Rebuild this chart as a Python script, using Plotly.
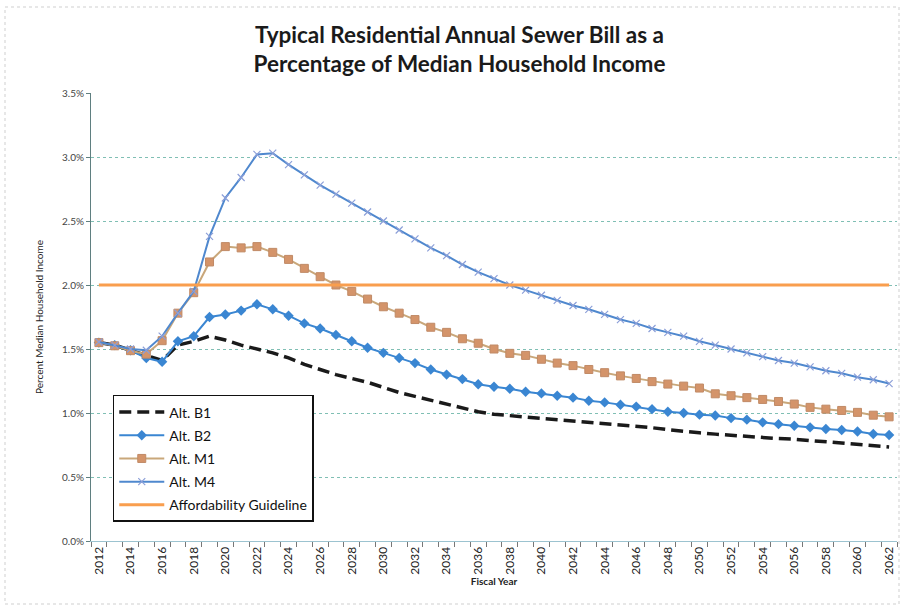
import plotly.graph_objects as go

years = list(range(2012, 2063))

alt_b1 = [1.55, 1.53, 1.49, 1.45, 1.41, 1.53, 1.56, 1.60, 1.57, 1.53, 1.50,
          1.47, 1.43, 1.38, 1.34, 1.30, 1.27, 1.24, 1.20, 1.16, 1.13,
          1.10, 1.07, 1.04, 1.01, 0.99, 0.98, 0.97, 0.96, 0.95, 0.935,
          0.925, 0.915, 0.905, 0.895, 0.885, 0.87, 0.855, 0.845, 0.835, 0.825,
          0.815, 0.81, 0.80, 0.795, 0.785, 0.775, 0.765, 0.755, 0.745, 0.735]

alt_b2 = [1.55, 1.53, 1.49, 1.43, 1.40, 1.56, 1.60, 1.75, 1.77, 1.80, 1.85,
          1.81, 1.76, 1.70, 1.66, 1.61, 1.56, 1.51, 1.47, 1.43, 1.39,
          1.34, 1.30, 1.265, 1.225, 1.205, 1.19, 1.166, 1.153, 1.135, 1.12,
          1.096, 1.083, 1.065, 1.05, 1.03, 1.01, 1.0, 0.987, 0.98, 0.96,
          0.948, 0.927, 0.913, 0.90, 0.888, 0.875, 0.867, 0.856, 0.836, 0.828]

alt_m1 = [1.55, 1.525, 1.487, 1.46, 1.565, 1.78, 1.94, 2.18, 2.30, 2.29, 2.30,
          2.255, 2.20, 2.13, 2.065, 2.00, 1.95, 1.89, 1.83, 1.78, 1.73,
          1.67, 1.63, 1.58, 1.545, 1.50, 1.466, 1.45, 1.42, 1.39, 1.37,
          1.34, 1.315, 1.29, 1.27, 1.245, 1.226, 1.21, 1.195, 1.15, 1.135,
          1.12, 1.106, 1.09, 1.07, 1.044, 1.03, 1.02, 1.005, 0.983, 0.97]

alt_m4 = [1.555, 1.53, 1.50, 1.49, 1.60, 1.78, 1.95, 2.38, 2.68, 2.84, 3.02,
          3.03, 2.94, 2.86, 2.78, 2.71, 2.64, 2.57, 2.50, 2.43, 2.36,
          2.29, 2.23, 2.16, 2.10, 2.05, 2.00, 1.96, 1.92, 1.88, 1.84,
          1.81, 1.77, 1.73, 1.70, 1.66, 1.63, 1.60, 1.56, 1.53, 1.50,
          1.47, 1.44, 1.41, 1.39, 1.36, 1.33, 1.31, 1.28, 1.26, 1.23]

guideline = [2.0] * len(years)

y_ticks = [0.0, 0.5, 1.0, 1.5, 2.0, 2.5, 3.0, 3.5]
x_ticks = list(range(2012, 2063, 2))

FONT = "Lato"

fig = go.Figure()
fig.add_trace(go.Scatter(x=years, y=alt_b1, name="Alt. B1", mode="lines",
                         legendgroup="a",
                         line=dict(color="#1a1a1a", width=3.5, dash="12px,6px")))
fig.add_trace(go.Scatter(x=years, y=alt_b2, name="Alt. B2", mode="lines+markers",
                         legendgroup="b",
                         line=dict(color="#3A86D2", width=2),
                         marker=dict(symbol="diamond", size=8, color="#3A86D2")))
fig.add_trace(go.Scatter(x=years, y=alt_m1, name="Alt. M1", mode="lines+markers",
                         legendgroup="c",
                         line=dict(color="#C9A77A", width=2),
                         marker=dict(symbol="square", size=8, color="#D4946A",
                                     line=dict(color="#C08A66", width=1))))
fig.add_trace(go.Scatter(x=years, y=alt_m4, name="Alt. M4", mode="lines+markers",
                         legendgroup="d",
                         line=dict(color="#4F88CE", width=2),
                         marker=dict(symbol="x-thin", size=7,
                                     line=dict(color="#8C9FD8", width=1.2))))
fig.add_trace(go.Scatter(x=years, y=guideline, name="Affordability Guideline",
                         mode="lines", legendgroup="e",
                         line=dict(color="#F99E4E", width=3)))

fig.update_layout(
    width=901, height=609,
    paper_bgcolor="white", plot_bgcolor="white",
    margin=dict(l=91, r=4, t=93, b=68),
    font=dict(family=FONT, color="#222"),
    title=dict(text="<b>Typical Residential Annual Sewer Bill as a<br>Percentage of Median Household Income</b>",
               x=0.51, xanchor="center", xref="container",
               y=1 - 43 / 609, yanchor="middle", yref="container",
               automargin=False,
               font=dict(family=FONT, size=22.5, color="#1a1a1a")),
    showlegend=True,
    legend=dict(x=0.027, y=0.326, xanchor="left", yanchor="top",
                bgcolor="white", bordercolor="#111", borderwidth=1.5,
                font=dict(family=FONT, size=14, color="#111"),
                tracegroupgap=2, itemwidth=45),
    xaxis=dict(range=[2011.5, 2062.5], tickvals=x_ticks,
               ticktext=[str(y) for y in x_ticks], tickangle=-90,
               tickfont=dict(family=FONT, size=12, color="#222"),
               showgrid=False, zeroline=False, automargin=False,
               showline=True, linecolor="#9cc3d0", linewidth=1,
               ticks="",
               minor=dict(tickvals=[y + 0.5 for y in range(2011, 2063)],
                          ticks="outside", ticklen=5, tickcolor="#777"),
               title=dict(text="<b>Fiscal Year</b>", standoff=4,
                          font=dict(family=FONT, size=10, color="#222"))),
    yaxis=dict(range=[0, 3.5], tickvals=y_ticks,
               ticktext=[f"{v:.1f}%" for v in y_ticks],
               tickfont=dict(family=FONT, size=10, color="#444"),
               showgrid=True, gridcolor="#80bfb4", gridwidth=1, griddash="dot",
               zeroline=False, showline=True, linecolor="#5f7f80", linewidth=1,
               ticks="outside", ticklen=4, tickcolor="#5f7f80",
               automargin=False,
               title=dict(text="Percent Median Household Income", standoff=16,
                          font=dict(family=FONT, size=10, color="#222"))),
    shapes=[dict(type="rect", xref="paper", yref="paper",
                 x0=-86 / 806, x1=1 + 2 / 806, y0=-63 / 448, y1=1 + 86 / 448,
                 line=dict(color="#cfcfcf", width=1, dash="dot"))],
)

fig.write_html("out.html", config={"displayModeBar": False},
               post_script="document.body.style.margin='0';document.body.style.overflow='hidden';")
